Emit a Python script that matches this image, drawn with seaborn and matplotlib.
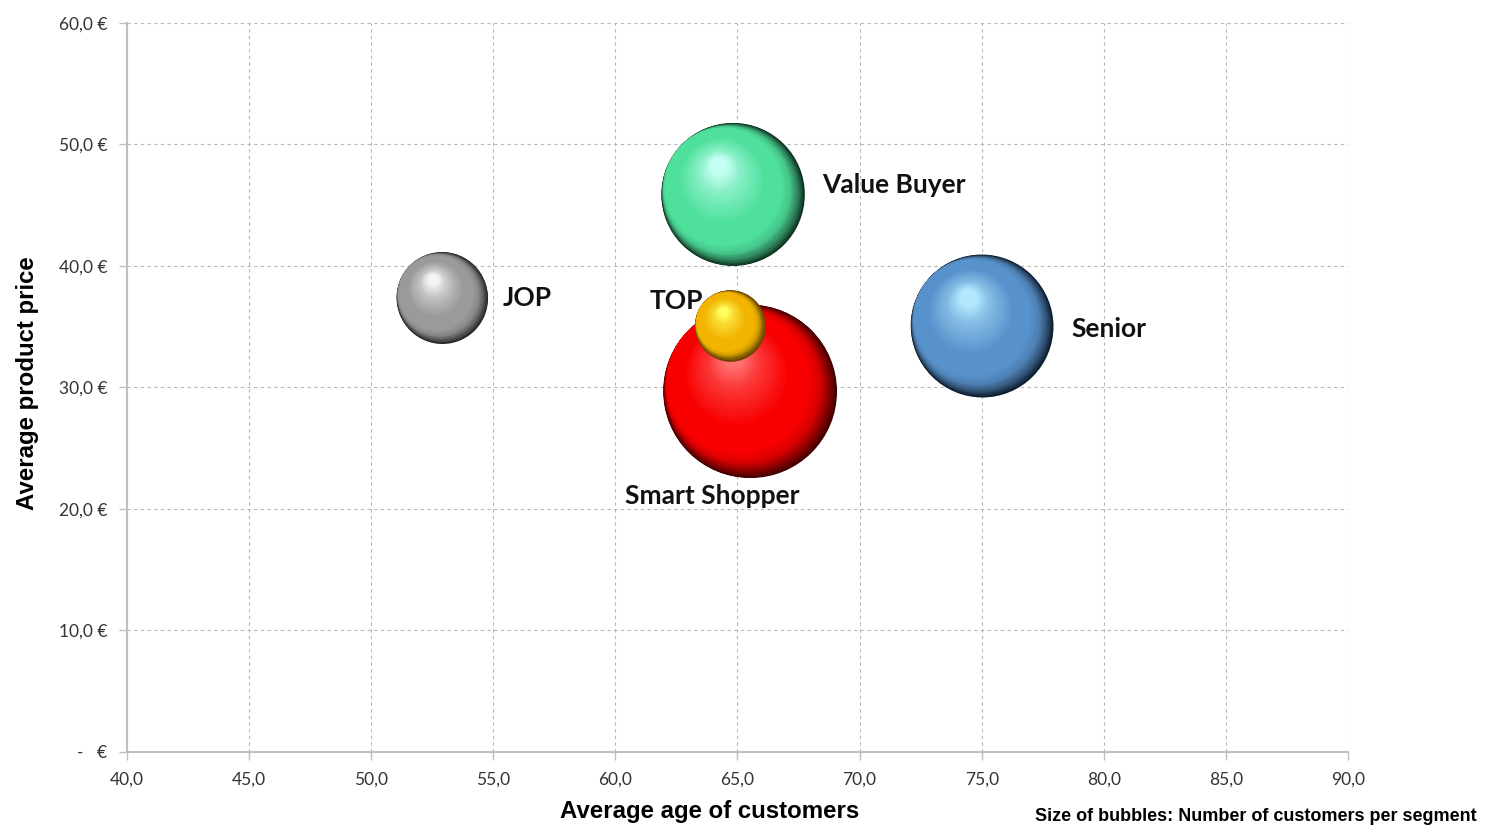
import numpy as np
import pandas as pd
import matplotlib
matplotlib.use("Agg")
import matplotlib.pyplot as plt
import matplotlib.transforms as mtransforms
from matplotlib.colors import LinearSegmentedColormap, to_rgb
from matplotlib.ticker import FuncFormatter, MultipleLocator
import seaborn as sns

# ---- data ----
segments = ["JOP", "Value Buyer", "Smart Shopper", "TOP", "Senior"]
avg_age = [52.9, 64.8, 65.5, 64.7, 75.0]
avg_price = [37.4, 45.9, 29.7, 35.1, 35.1]
customers = [415, 1020, 1500, 250, 1010]

# sphere colours: dark rim, body, highlight
dark_colors = ["#262626", "#0c3220", "#420000", "#704000", "#0c1e32"]
base_colors = ["#9a9a9a", "#4fe09c", "#f80000", "#f2b400", "#5892cc"]
light_colors = ["#f4f4f4", "#c4fff4", "#ff7070", "#ffff60", "#b4e8ff"]

# label placement (offset in points from bubble centre)
label_dx = [43.6, 64.4, -27.0, -19.8, 64.8]
label_dy = [0.0, 6.8, -75.6, 17.6, -2.2]
label_ha = ["left", "left", "center", "right", "left"]

MAX_CUSTOMERS = 1500
MAX_AREA = 15515  # marker area (pt^2) for MAX_CUSTOMERS


def mix(c1, c2, w):
    a, b = np.array(to_rgb(c1)), np.array(to_rgb(c2))
    return tuple((1 - w) * a + w * b)


df = pd.DataFrame({"segment": segments, "age": avg_age,
                   "price": avg_price, "customers": customers})

sns.set_theme(style="white")
plt.rcParams["font.family"] = ["Lato", "DejaVu Sans"]

fig = plt.figure(figsize=(14.92, 8.39), dpi=100)
ax = fig.add_axes([0.0851, 0.1037, 0.8184, 0.8689])

# base bubbles (dark shadow side) through seaborn's size mapping
sns.scatterplot(data=df, x="age", y="price", size="customers",
                size_norm=(0, MAX_CUSTOMERS), sizes=(0, MAX_AREA),
                hue="segment", palette=dark_colors, legend=False,
                linewidth=0, ax=ax, zorder=2)

# 3D shading: stacked circles, first a shadow crescent on the lower right,
# then shrinking towards the highlight on the upper left
light_dir = np.array([-0.78, 0.62])
hl_center = np.array([-0.2, 0.4])
frac_mid, frac_end = 0.82, 0.12
n1, n2 = 30, 50


def layer(t_list, frac_list, center_list, cmap, row, r_pt, z):
    for t, frac, c in zip(t_list, frac_list, center_list):
        shift = mtransforms.ScaledTranslation(c[0] * r_pt / 72, c[1] * r_pt / 72,
                                              fig.dpi_scale_trans)
        ax.scatter(row["age"], row["price"], s=(2 * r_pt * frac) ** 2,
                   color=cmap(t), linewidth=0, transform=ax.transData + shift,
                   zorder=z)


for i, row in df.iterrows():
    r_pt = np.sqrt(row["customers"] / MAX_CUSTOMERS * MAX_AREA) / 2
    body = base_colors[i]
    shadow_map = LinearSegmentedColormap.from_list(
        row["segment"] + "_s",
        [(0.0, dark_colors[i]), (0.25, mix(body, "black", 0.45)),
         (0.6, mix(body, "black", 0.12)), (1.0, body)])
    light_map = LinearSegmentedColormap.from_list(
        row["segment"] + "_l",
        [(0.0, body), (0.3, body), (0.75, mix(body, light_colors[i], 0.5)),
         (1.0, light_colors[i])])
    z = 3 + i

    # phase 1: crescent, tangent to the lit edge
    t1 = np.linspace(0, 1, n1)
    f1 = 1 - (1 - frac_mid) * t1
    c1 = [(1 - f) * light_dir for f in f1]
    layer(t1, f1, c1, shadow_map, row, r_pt, z)

    # phase 2: towards the highlight
    t2 = np.linspace(0, 1, n2)
    f2 = frac_mid - (frac_mid - frac_end) * t2
    start = (1 - frac_mid) * light_dir
    c2 = [start + u * (hl_center - start) for u in t2]
    layer(t2, f2, c2, light_map, row, r_pt, z)

# bubble labels
for i, row in df.iterrows():
    ax.annotate(row["segment"], (row["age"], row["price"]),
                xytext=(label_dx[i], label_dy[i]), textcoords="offset points",
                ha=label_ha[i], va="center", fontsize=19, fontweight="bold",
                color="#111111", zorder=10)

# axes styling
ax.set_xlim(40, 90)
ax.set_ylim(0, 60)
ax.xaxis.set_major_locator(MultipleLocator(5))
ax.yaxis.set_major_locator(MultipleLocator(10))
ax.xaxis.set_major_formatter(FuncFormatter(lambda v, p: f"{v:.1f}".replace(".", ",")))
ax.yaxis.set_major_formatter(FuncFormatter(
    lambda v, p: "-   €" if abs(v) < 1e-9 else f"{v:.1f}".replace(".", ",") + " €"))

ax.grid(True, linestyle=(0, (3, 3)), color="#b8b8b8", linewidth=0.8)
ax.set_axisbelow(True)
for side in ["top", "right"]:
    ax.spines[side].set_visible(False)
for side in ["left", "bottom"]:
    ax.spines[side].set_color("#bfbfbf")
    ax.spines[side].set_linewidth(1.5)
ax.tick_params(axis="both", which="major", bottom=True, left=True,
               direction="out", length=6, width=1, color="#bfbfbf",
               labelsize=12.5, labelcolor="#333333", pad=8)

ax.set_xlabel("Average age of customers", fontsize=17.3, fontweight="bold",
              family=["Liberation Sans", "DejaVu Sans"], color="black")
ax.set_ylabel("Average product price", fontsize=17.3, fontweight="bold",
              family=["Liberation Sans", "DejaVu Sans"], color="black")
ax.xaxis.set_label_coords(0.477, -0.066)
ax.yaxis.set_label_coords(-0.072, 0.506)

fig.text(0.990, 0.027, "Size of bubbles: Number of customers per segment",
         ha="right", va="center", fontsize=13, fontweight="bold",
         family=["Liberation Sans", "DejaVu Sans"], color="black")

fig.savefig("out.png", dpi=100)
